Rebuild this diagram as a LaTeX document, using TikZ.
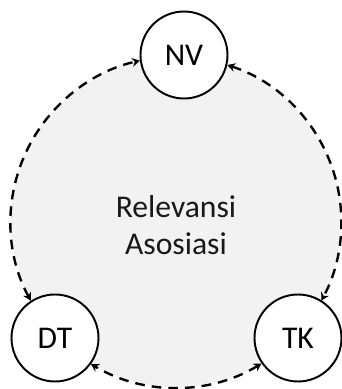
\documentclass[tikz,border=0pt]{standalone}
\usepackage{fontspec}
\setmainfont{Carlito}
\usetikzlibrary{arrows.meta}
\begin{document}
\begin{tikzpicture}[
    konsep/.style={circle,draw,line width=1.1pt,fill=white,minimum size=1.74cm,inner sep=0pt,font=\fontsize{18}{21}\selectfont},
    relasi/.style={{Stealth[length=4.5pt,width=5pt,inset=1.5pt]}-{Stealth[length=4.5pt,width=5pt,inset=1.5pt]},line width=1.35pt,dash pattern=on 5.5pt off 4pt}
  ]
  \useasboundingbox (0,0) rectangle (6.84,7.78);
  \fill[gray!10] (3.52,3.34) circle (3.3);

  \node[konsep] (nv) at (3.68,6.68) {NV};
  \node[konsep] (dt) at (1.10,1.02) {DT};
  \node[konsep] (tk) at (5.96,1.02) {TK};

  \node[align=center,font=\fontsize{18}{21}\selectfont,text=black!90] (ra) at (3.52,3.28) {Relevansi\\Asosiasi};

  % arcs along the shaded circle
  \draw[relasi] (dt.123) arc[start angle=208.6,end angle=102.5,radius=3.3];
  \draw[relasi] (nv.347) arc[start angle=72.0,end angle=-28.5,radius=3.3];
  \draw[relasi] (tk.215) arc[start angle=301.3,end angle=239.0,radius=3.3];
\end{tikzpicture}
\end{document}
